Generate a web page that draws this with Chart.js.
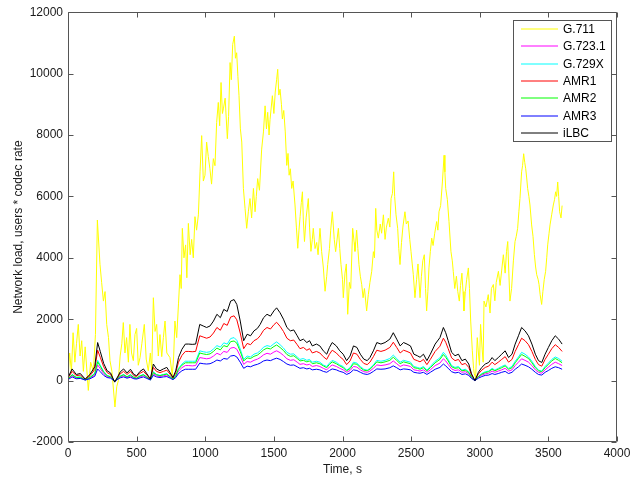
<!DOCTYPE html>
<html>
<head>
<meta charset="utf-8">
<script src="https://cdn.jsdelivr.net/npm/chart.js@4.4.1/dist/chart.umd.min.js"></script>
<style>
    html, body { margin: 0; padding: 0; background: #fff; }
    #wrap { width: 630px; height: 479px; }
</style>
</head>
<body>
<div id="wrap"><canvas id="chart-load" width="630" height="479"></canvas></div>
<script>
// Network load per codec, users * codec rate

const CODECS = ['G.711', 'G.723.1', 'G.729X', 'AMR1', 'AMR2', 'AMR3', 'iLBC'];
const CODEC_COLORS = ['#ffff00', '#ff00ff', '#00ffff', '#ff0000', '#00ff00', '#0000ff', '#000000'];

const X_TICKS = [0, 500, 1000, 1500, 2000, 2500, 3000, 3500, 4000];
const Y_TICKS = [-2000, 0, 2000, 4000, 6000, 8000, 10000, 12000];

// G.711 has its own (denser) sampling
const g711Time = [
    0, 12, 25, 37, 50, 62, 75, 88, 100, 112,
    125, 148, 165, 185, 200, 214, 233, 245, 258, 270,
    282, 295, 306, 320, 342, 355, 367, 380, 392, 403,
    415, 427, 440, 451, 463, 476, 488, 500, 512, 525,
    538, 556, 570, 585, 600, 610, 622, 634, 646, 658,
    670, 683, 695, 707, 720, 743, 760, 770, 779, 792,
    805, 816, 825, 833, 845, 857, 866, 877, 890, 901,
    913, 925, 937, 950, 962, 974, 986, 998, 1010, 1022,
    1034, 1046, 1059, 1071, 1083, 1095, 1105, 1115, 1125, 1132,
    1145, 1161, 1170, 1181, 1190, 1200, 1212, 1220, 1229, 1238,
    1246, 1256, 1266, 1278, 1290, 1302, 1314, 1326, 1338, 1351,
    1363, 1372, 1382, 1395, 1411, 1424, 1436, 1446, 1455, 1465,
    1472, 1489, 1500, 1510, 1520, 1528, 1536, 1545, 1555, 1562,
    1572, 1583, 1594, 1603, 1611, 1620, 1630, 1640, 1654, 1664,
    1674, 1683, 1691, 1700, 1708, 1715, 1723, 1735, 1751, 1760,
    1770, 1780, 1787, 1800, 1812, 1822, 1836, 1848, 1860, 1873,
    1885, 1892, 1905, 1914, 1926, 1940, 1950, 1970, 1980, 1989,
    2000, 2006, 2018, 2028, 2038, 2050, 2060, 2074, 2085, 2091,
    2103, 2112, 2120, 2130, 2140, 2150, 2160, 2176, 2188, 2200,
    2213, 2225, 2233, 2242, 2250, 2261, 2275, 2285, 2298, 2310,
    2320, 2334, 2345, 2354, 2364, 2373, 2380, 2390, 2402, 2410,
    2419, 2430, 2440, 2455, 2465, 2478, 2490, 2499, 2508, 2516,
    2528, 2540, 2550, 2565, 2575, 2585, 2596, 2605, 2613, 2622,
    2630, 2640, 2650, 2660, 2672, 2686, 2695, 2703, 2715, 2728,
    2740, 2746, 2752, 2764, 2776, 2790, 2800, 2807, 2818, 2830,
    2840, 2851, 2860, 2870, 2878, 2885, 2895, 2905, 2917, 2925,
    2934, 2946, 2955, 2960, 2970, 2982, 2992, 2998, 3006, 3018,
    3025, 3031, 3045, 3062, 3075, 3085, 3099, 3110, 3120, 3136,
    3148, 3160, 3172, 3185, 3195, 3204, 3212, 3220, 3232, 3245,
    3257, 3266, 3276, 3285, 3293, 3305, 3312, 3320, 3328, 3335,
    3342, 3349, 3358, 3366, 3378, 3388, 3398, 3407, 3415, 3425,
    3432, 3440, 3451, 3460, 3470, 3480, 3488, 3495, 3505, 3512,
    3524, 3536, 3545, 3553, 3560, 3568, 3575, 3582, 3592, 3600,
];
const g711Load = [
    50, 900, 300, 1560, 600, 1200, 1830, 800, 1300, 300,
    1100, -320, 600, 300, 1500, 5230, 3790, 3200, 2590, 2900,
    1830, 1400, 650, 300, -860, -200, 0, 800, 1200, 1890,
    900, 1400, 600, 1830, 900, 650, 1500, 1700, 500, 750,
    1200, 1830, 700, 320, 900, 300, 2700, 1600, 1830, 800,
    1500, 780, 1400, 1940, 900, 750, 160, 800, 1940, 1400,
    2500, 3450, 3000, 4960, 4000, 4420, 3350, 5120, 4100, 4600,
    4000, 5340, 4900, 5400, 6800, 7980, 6500, 6690, 7770, 7300,
    6900, 6400, 7230, 7000, 8410, 9060, 8300, 9710, 8700, 8850,
    9200, 7880, 8600, 10360, 9800, 10950, 11220, 10500, 10680, 9900,
    9280, 8200, 7770, 6260, 5610, 4960, 5500, 5930, 5300, 6260,
    5500, 6000, 6580, 6200, 7540, 8100, 8950, 8200, 8740, 8000,
    8500, 9280, 8700, 9400, 9800, 10140, 9300, 9490, 9000, 8520,
    8800, 8100, 7010, 7400, 6690, 6900, 6260, 6500, 5720, 5000,
    4310, 4900, 5340, 5800, 6150, 5200, 4530, 5300, 5930, 5000,
    4210, 4600, 4960, 4300, 4500, 4100, 4960, 4200, 3700, 2910,
    3400, 3780, 4300, 4900, 5500, 4600, 4200, 4960, 4300, 3780,
    3300, 2700, 3500, 3800, 2160, 3200, 3000, 4960, 4500, 4210,
    4900, 4300, 3780, 3400, 3130, 2700, 3000, 2270, 2800, 3200,
    3560, 4200, 4000, 5610, 4900, 4640, 5100, 4800, 5400, 4600,
    5000, 5290, 5000, 5930, 6100, 6800, 6000, 5400, 4960, 4300,
    3780, 4500, 5000, 5500, 5100, 5200, 4600, 4210, 3800, 3450,
    2700, 3300, 3800, 2700, 3400, 3900, 4100, 3000, 2270, 2900,
    3670, 4200, 4640, 4400, 4800, 5180, 4900, 5500, 5700, 6470,
    7340, 6800, 6260, 5900, 5180, 4210, 3900, 3560, 3000, 3400,
    2900, 2590, 3100, 3500, 2900, 2270, 2900, 3300, 3670, 3000,
    1940, 970, 400, 220, 100, 1400, 800, 500, 1830, 1000,
    600, 2590, 2400, 2800, 2200, 3000, 3130, 2600, 3200, 3560,
    3100, 3600, 4100, 3500, 4200, 4530, 3500, 2590, 3000, 3900,
    4530, 4700, 4960, 5500, 5930, 6800, 7000, 7390, 7100, 6900,
    6600, 6260, 6000, 5720, 5070, 4700, 4100, 3700, 3450, 3300,
    3130, 2800, 2480, 2900, 3300, 3560, 4000, 4420, 4800, 5070,
    5400, 5720, 5900, 6150, 6000, 6470, 6000, 5500, 5300, 5700,
];

// low-rate codecs share one time grid
const lowTime = [
    0, 30, 60, 90, 125, 160, 195, 216, 235, 260,
    285, 310, 340, 365, 380, 405, 430, 455, 480, 500,
    525, 550, 575, 600, 622, 645, 670, 695, 720, 745,
    765, 785, 805, 830, 855, 880, 905, 930, 960, 985,
    1010, 1035, 1060, 1085, 1110, 1135, 1160, 1185, 1210, 1230,
    1255, 1280, 1305, 1330, 1355, 1380, 1400, 1425, 1450, 1475,
    1500, 1520, 1545, 1570, 1595, 1620, 1645, 1670, 1690, 1715,
    1740, 1760, 1780, 1810, 1835, 1860, 1885, 1905, 1925, 1955,
    1980, 2005, 2030, 2055, 2080, 2105, 2130, 2155, 2180, 2200,
    2225, 2250, 2280, 2310, 2345, 2370, 2395, 2420, 2445, 2470,
    2495, 2520, 2545, 2565, 2590, 2615, 2640, 2675, 2710, 2735,
    2752, 2770, 2795, 2820, 2845, 2870, 2895, 2920, 2940, 2965,
    2990, 3015, 3040, 3065, 3090, 3110, 3135, 3160, 3185, 3210,
    3235, 3258, 3282, 3305, 3330, 3355, 3380, 3405, 3428, 3452,
    3476, 3500, 3525, 3550, 3575, 3600,
];
const g7231Load = [
    40, 160, 80, 90, 20, 80, 180, 510, 390, 230,
    130, 100, -20, 60, 110, 160, 100, 150, 80, 70,
    120, 160, 90, 20, 220, 160, 130, 160, 180, 100,
    40, 130, 310, 420, 490, 490, 480, 490, 750, 730,
    710, 730, 800, 890, 840, 950, 920, 1060, 1080, 1020,
    800, 530, 620, 600, 660, 700, 750, 840, 890, 860,
    930, 970, 910, 820, 710, 660, 680, 600, 530, 550,
    510, 530, 460, 490, 460, 400, 350, 440, 510, 460,
    400, 350, 270, 330, 460, 440, 350, 290, 270, 310,
    400, 510, 490, 510, 550, 640, 550, 460, 510, 490,
    460, 350, 330, 310, 350, 270, 350, 490, 570, 710,
    640, 530, 380, 330, 350, 270, 290, 220, 90, 0,
    110, 180, 220, 240, 310, 270, 310, 350, 400, 310,
    350, 490, 600, 710, 660, 600, 490, 350, 270, 240,
    350, 440, 530, 600, 550, 490,
];
const g729xLoad = [
    50, 200, 110, 120, 30, 110, 240, 660, 500, 300,
    170, 130, -30, 80, 150, 200, 130, 200, 110, 80,
    160, 200, 120, 30, 290, 200, 170, 200, 230, 130,
    50, 170, 400, 540, 630, 630, 630, 630, 970, 940,
    920, 940, 1030, 1140, 1090, 1230, 1190, 1370, 1400, 1310,
    1030, 690, 800, 770, 860, 900, 970, 1090, 1140, 1110,
    1200, 1260, 1170, 1060, 920, 860, 870, 770, 690, 720,
    660, 690, 600, 630, 600, 510, 460, 570, 660, 600,
    510, 460, 340, 420, 600, 570, 460, 370, 340, 400,
    510, 660, 630, 660, 720, 830, 720, 600, 660, 630,
    600, 460, 430, 400, 460, 340, 460, 630, 740, 920,
    830, 690, 490, 430, 460, 340, 370, 290, 120, 0,
    140, 230, 290, 310, 400, 340, 400, 460, 510, 400,
    460, 630, 770, 920, 860, 770, 630, 460, 340, 310,
    460, 570, 690, 770, 720, 630,
];
const amr1Load = [
    80, 300, 160, 180, 40, 160, 360, 990, 760, 450,
    260, 200, -40, 120, 220, 300, 200, 300, 160, 130,
    240, 300, 180, 40, 430, 300, 260, 300, 340, 200,
    80, 260, 600, 820, 950, 950, 940, 950, 1460, 1420,
    1380, 1420, 1550, 1730, 1640, 1860, 1800, 2070, 2110, 1980,
    1550, 1040, 1210, 1170, 1300, 1360, 1460, 1640, 1730, 1680,
    1820, 1900, 1770, 1600, 1380, 1300, 1320, 1170, 1040, 1080,
    990, 1040, 900, 950, 900, 780, 690, 860, 990, 900,
    780, 690, 520, 640, 900, 860, 690, 560, 520, 600,
    780, 990, 950, 990, 1080, 1250, 1080, 900, 990, 950,
    900, 690, 650, 610, 690, 520, 690, 950, 1120, 1380,
    1250, 1040, 740, 650, 690, 520, 560, 430, 180, 0,
    220, 340, 430, 470, 600, 520, 600, 690, 780, 600,
    690, 950, 1170, 1380, 1300, 1170, 950, 690, 520, 470,
    690, 860, 1040, 1170, 1080, 950,
];
const amr2Load = [
    50, 190, 100, 110, 20, 100, 220, 610, 470, 270,
    160, 120, -20, 70, 140, 190, 120, 180, 100, 80,
    150, 190, 110, 20, 260, 190, 160, 190, 210, 120,
    50, 160, 370, 500, 580, 580, 580, 580, 900, 870,
    850, 870, 950, 1060, 1000, 1140, 1100, 1270, 1290, 1220,
    950, 640, 740, 720, 790, 830, 900, 1000, 1060, 1030,
    1110, 1160, 1080, 980, 850, 790, 810, 720, 640, 660,
    610, 640, 550, 580, 550, 480, 420, 530, 610, 550,
    480, 420, 320, 390, 550, 530, 420, 340, 320, 370,
    480, 610, 580, 610, 660, 760, 660, 550, 610, 580,
    550, 420, 400, 370, 420, 320, 420, 580, 690, 850,
    760, 640, 450, 400, 420, 320, 340, 260, 110, 0,
    130, 210, 260, 290, 370, 320, 370, 420, 480, 370,
    420, 580, 720, 850, 790, 720, 580, 420, 320, 290,
    420, 530, 640, 720, 660, 580,
];
const amr3Load = [
    30, 120, 60, 70, 20, 60, 140, 380, 290, 170,
    100, 80, -20, 50, 90, 120, 80, 110, 60, 50,
    90, 120, 70, 20, 170, 120, 100, 120, 130, 80,
    30, 100, 230, 320, 370, 370, 370, 370, 570, 550,
    540, 550, 600, 670, 640, 720, 700, 800, 820, 770,
    600, 400, 470, 450, 500, 530, 570, 640, 670, 650,
    700, 730, 690, 620, 540, 500, 510, 450, 400, 420,
    380, 400, 350, 370, 350, 300, 270, 330, 380, 350,
    300, 270, 200, 250, 350, 330, 270, 220, 200, 230,
    300, 380, 370, 380, 420, 480, 420, 350, 380, 370,
    350, 270, 250, 240, 270, 200, 270, 370, 430, 540,
    480, 400, 290, 250, 270, 200, 220, 170, 70, 0,
    80, 130, 170, 180, 230, 200, 230, 270, 300, 230,
    270, 370, 450, 540, 500, 450, 370, 270, 200, 180,
    270, 330, 400, 450, 420, 370,
];
const ilbcLoad = [
    100, 380, 200, 230, 50, 200, 450, 1240, 950, 560,
    320, 250, -50, 150, 280, 380, 250, 370, 200, 160,
    300, 380, 220, 50, 540, 380, 320, 380, 430, 250,
    100, 320, 750, 1020, 1190, 1190, 1180, 1190, 1830, 1780,
    1730, 1780, 1940, 2160, 2050, 2320, 2250, 2590, 2640, 2480,
    1940, 1300, 1510, 1460, 1620, 1700, 1830, 2050, 2160, 2100,
    2270, 2370, 2210, 2000, 1730, 1620, 1650, 1460, 1300, 1350,
    1240, 1300, 1130, 1190, 1130, 970, 860, 1080, 1240, 1130,
    970, 860, 650, 800, 1130, 1080, 860, 700, 650, 750,
    970, 1240, 1190, 1240, 1350, 1560, 1350, 1130, 1240, 1190,
    1130, 860, 810, 760, 860, 650, 860, 1190, 1400, 1730,
    1560, 1300, 920, 810, 860, 650, 700, 540, 220, 0,
    270, 430, 540, 590, 750, 650, 750, 860, 970, 750,
    860, 1190, 1460, 1730, 1620, 1460, 1190, 860, 650, 590,
    860, 1080, 1300, 1460, 1350, 1190,
];

const AXIS_COLOR = '#555555';
const TICK_LEN = 5;
const FONT_FAMILY = '"Liberation Sans", Arial, Helvetica, sans-serif';

Chart.defaults.font.family = FONT_FAMILY;
Chart.defaults.font.size = 12;
Chart.defaults.color = '#1a1a1a';

function toPoints(times, values) {
    return times.map((t, i) => ({ x: t, y: values[i] }));
}

const seriesValues = [g711Load, g7231Load, g729xLoad, amr1Load, amr2Load, amr3Load, ilbcLoad];
const seriesTimes = [g711Time, lowTime, lowTime, lowTime, lowTime, lowTime, lowTime];

// MATLAB-style box with inward ticks on all four sides
const boxPlugin = {
    id: 'matlabBox',
    afterDatasetsDraw(chart) {
        const { ctx, chartArea: a, scales } = chart;
        const L = Math.round(a.left) + 0.5;
        const R = Math.round(a.right) - 0.5;
        const T = Math.round(a.top) + 0.5;
        const B = Math.round(a.bottom) - 0.5;
        ctx.save();
        ctx.strokeStyle = AXIS_COLOR;
        ctx.lineWidth = 1;
        ctx.beginPath();
        ctx.rect(L, T, R - L, B - T);
        X_TICKS.forEach(v => {
            const px = Math.round(scales.x.getPixelForValue(v)) + 0.5;
            ctx.moveTo(px, B);
            ctx.lineTo(px, B - TICK_LEN);
            ctx.moveTo(px, T);
            ctx.lineTo(px, T + TICK_LEN);
        });
        Y_TICKS.forEach(v => {
            const py = Math.round(scales.y.getPixelForValue(v)) + 0.5;
            ctx.moveTo(L, py);
            ctx.lineTo(L + TICK_LEN, py);
            ctx.moveTo(R, py);
            ctx.lineTo(R - TICK_LEN, py);
        });
        ctx.stroke();
        ctx.restore();
    },
};

// boxed legend in the upper right corner of the axes
const legendPlugin = {
    id: 'boxLegend',
    afterDraw(chart) {
        const { ctx, chartArea: a } = chart;
        const w = 99, h = 122;
        const x0 = Math.round(a.right) - 5 - w;
        const y0 = Math.round(a.top) + 8;
        const rowH = 17.3;
        ctx.save();
        ctx.fillStyle = '#ffffff';
        ctx.fillRect(x0, y0, w, h);
        ctx.strokeStyle = AXIS_COLOR;
        ctx.lineWidth = 1;
        ctx.strokeRect(x0 + 0.5, y0 + 0.5, w - 1, h - 1);
        ctx.font = '12px ' + FONT_FAMILY;
        ctx.textBaseline = 'middle';
        ctx.textAlign = 'left';
        CODECS.forEach((name, i) => {
            const yy = Math.round(y0 + 9 + i * rowH);
            // sample line straddles two pixel rows, giving the soft look of the original
            ctx.strokeStyle = CODEC_COLORS[i];
            ctx.beginPath();
            ctx.moveTo(x0 + 8, yy);
            ctx.lineTo(x0 + 45, yy);
            ctx.stroke();
            ctx.fillStyle = '#000000';
            ctx.fillText(name, x0 + 50, yy + 0.5);
        });
        ctx.restore();
    },
};

const canvas = document.getElementById('chart-load');
const ctx = canvas.getContext('2d');

new Chart(ctx, {
    type: 'line',
    data: {
        datasets: CODECS.map((name, i) => ({
            label: name,
            data: toPoints(seriesTimes[i], seriesValues[i]),
            borderColor: CODEC_COLORS[i],
            backgroundColor: CODEC_COLORS[i],
            borderWidth: 1,
            pointRadius: 0,
            tension: 0,
            fill: false,
            order: CODECS.length - i, // G.711 drawn first, iLBC on top
        })),
    },
    plugins: [boxPlugin, legendPlugin],
    options: {
        responsive: false,
        animation: false,
        devicePixelRatio: 1,
        layout: { padding: { top: 9, right: 13, left: 0, bottom: 0 } },
        plugins: {
            legend: { display: false },
            tooltip: { enabled: false },
        },
        scales: {
            x: {
                type: 'linear',
                min: 0,
                max: 4000,
                afterBuildTicks: scale => { scale.ticks = X_TICKS.map(v => ({ value: v })); },
                afterFit: scale => {
                    scale.height = 37;
                    scale.paddingLeft = 0;
                    scale.paddingRight = 13;
                },
                ticks: { padding: 4, maxRotation: 0, autoSkip: false, callback: v => String(v) },
                grid: { display: false, drawTicks: false },
                border: { display: false },
                title: { display: true, text: 'Time, s', padding: { top: 0, bottom: 2 } },
            },
            y: {
                type: 'linear',
                min: -2000,
                max: 12000,
                afterBuildTicks: scale => { scale.ticks = Y_TICKS.map(v => ({ value: v })); },
                afterFit: scale => { scale.width = 68; },
                ticks: { padding: 5, autoSkip: false, callback: v => String(v) },
                grid: { display: false, drawTicks: false },
                border: { display: false },
                title: { display: true, text: 'Network load, users * codec rate', padding: { top: 11, bottom: 0 } },
            },
        },
    },
});
</script>
</body>
</html>
